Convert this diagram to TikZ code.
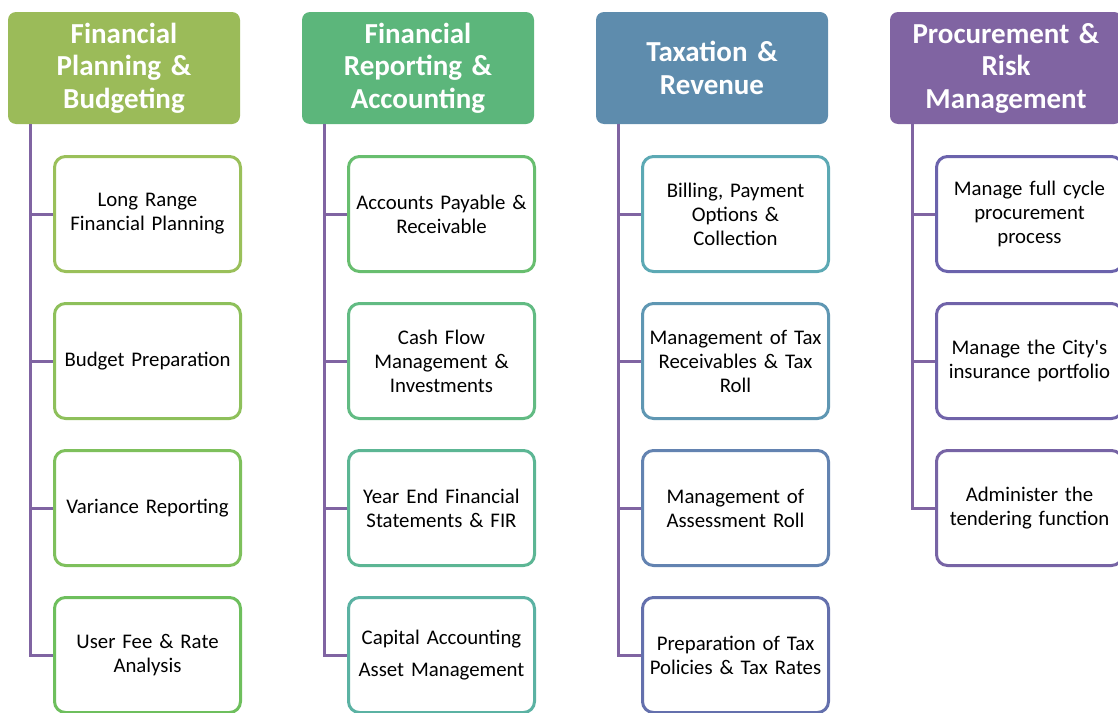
\documentclass[tikz,border=0pt]{standalone}
\usepackage{fontspec}
\setmainfont{Carlito}
\newfontfamily\apofont{Carlito}
\definecolor{hdA}{HTML}{9BBB59}
\definecolor{hdB}{HTML}{5CB67B}
\definecolor{hdC}{HTML}{5E8CAD}
\definecolor{hdD}{HTML}{8064A2}
\definecolor{stemc}{HTML}{8064A2}
\definecolor{bdA1}{RGB}{154,192,90}
\definecolor{bdA2}{RGB}{142,192,91}
\definecolor{bdA3}{RGB}{126,192,92}
\definecolor{bdA4}{RGB}{110,191,93}
\definecolor{bdB1}{RGB}{104,190,111}
\definecolor{bdB2}{RGB}{98,187,131}
\definecolor{bdB3}{RGB}{92,182,148}
\definecolor{bdB4}{RGB}{91,178,163}
\definecolor{bdC1}{RGB}{92,169,180}
\definecolor{bdC2}{RGB}{95,151,179}
\definecolor{bdC3}{RGB}{99,131,177}
\definecolor{bdC4}{RGB}{100,112,173}
\definecolor{bdD1}{RGB}{107,99,172}
\definecolor{bdD2}{RGB}{112,99,169}
\definecolor{bdD3}{RGB}{119,100,165}
\begin{document}
\begin{tikzpicture}[x=1pt,y=-1pt,
  head/.style={fill=#1, rounded corners=8pt, minimum width=232pt, minimum height=112pt, text width=228pt, inner sep=0pt, align=center, text=white, font=\fontsize{29}{32.5}\selectfont\bfseries},
  item/.style={draw=#1, line width=3pt, rounded corners=11pt, fill=white, minimum width=186pt, minimum height=115pt, text width=184pt, inner sep=0pt, align=center, font=\fontsize{20.8}{24}\selectfont},
  stem/.style={draw=stemc, line width=3pt}]
\useasboundingbox (0,0) rectangle (1118,712);
% headers
\node[head=hdA] (fpb) at (124,68) {Financial\\Planning \&\\Budgeting};
\node[head=hdB] (fra) at (418,68) {Financial\\Reporting \&\\Accounting};
\node[head=hdC] (txr) at (712,68) {Taxation \&\\Revenue};
\node[head=hdD] (prm) at (1006,68) {Procurement \&\\Risk\\Management};
% column 1
\node[item=bdA1] (fpb1) at (147.5,214) {Long Range\\Financial Planning};
\node[item=bdA2] (fpb2) at (147.5,361) {Budget Preparation};
\node[item=bdA3] (fpb3) at (147.5,508) {Variance Reporting};
\node[item=bdA4] (fpb4) at (147.5,655) {User Fee \& Rate\\Analysis};
% column 2
\node[item=bdB1] (fra1) at (441.5,214) {Accounts Payable \&\\Receivable};
\node[item=bdB2] (fra2) at (441.5,361) {Cash Flow\\Management \&\\Investments};
\node[item=bdB3] (fra3) at (441.5,508) {Year End Financial\\Statements \& FIR};
\node[item=bdB4] (fra4) at (441.5,655) {Capital Accounting\\[8pt]Asset Management};
% column 3
\node[item=bdC1] (txr1) at (735.5,214) {Billing, Payment\\Options \&\\Collection};
\node[item=bdC2] (txr2) at (735.5,361) {Management of Tax\\Receivables \& Tax\\Roll};
\node[item=bdC3] (txr3) at (735.5,508) {Management of\\Assessment Roll};
\node[item=bdC4] (txr4) at (735.5,655) {Preparation of Tax\\Policies \& Tax Rates};
% column 4
\node[item=bdD1] (prm1) at (1029.5,214) {Manage full cycle\\procurement\\process};
\node[item=bdD2] (prm2) at (1029.5,361) {Manage the City{\apofont '}s\\insurance portfolio};
\node[item=bdD3] (prm3) at (1029.5,508) {Administer the\\tendering function};
% stems
\coordinate (s1) at (30,124);
\coordinate (s2) at (324,124);
\coordinate (s3) at (618,124);
\coordinate (s4) at (912,124);
\draw[stem] (s1) |- (fpb4.west);
\draw[stem] (s1 |- fpb1.west) -- (fpb1.west);
\draw[stem] (s1 |- fpb2.west) -- (fpb2.west);
\draw[stem] (s1 |- fpb3.west) -- (fpb3.west);
\draw[stem] (s2) |- (fra4.west);
\draw[stem] (s2 |- fra1.west) -- (fra1.west);
\draw[stem] (s2 |- fra2.west) -- (fra2.west);
\draw[stem] (s2 |- fra3.west) -- (fra3.west);
\draw[stem] (s3) |- (txr4.west);
\draw[stem] (s3 |- txr1.west) -- (txr1.west);
\draw[stem] (s3 |- txr2.west) -- (txr2.west);
\draw[stem] (s3 |- txr3.west) -- (txr3.west);
\draw[stem] (s4) |- (prm3.west);
\draw[stem] (s4 |- prm1.west) -- (prm1.west);
\draw[stem] (s4 |- prm2.west) -- (prm2.west);
\end{tikzpicture}
\end{document}
